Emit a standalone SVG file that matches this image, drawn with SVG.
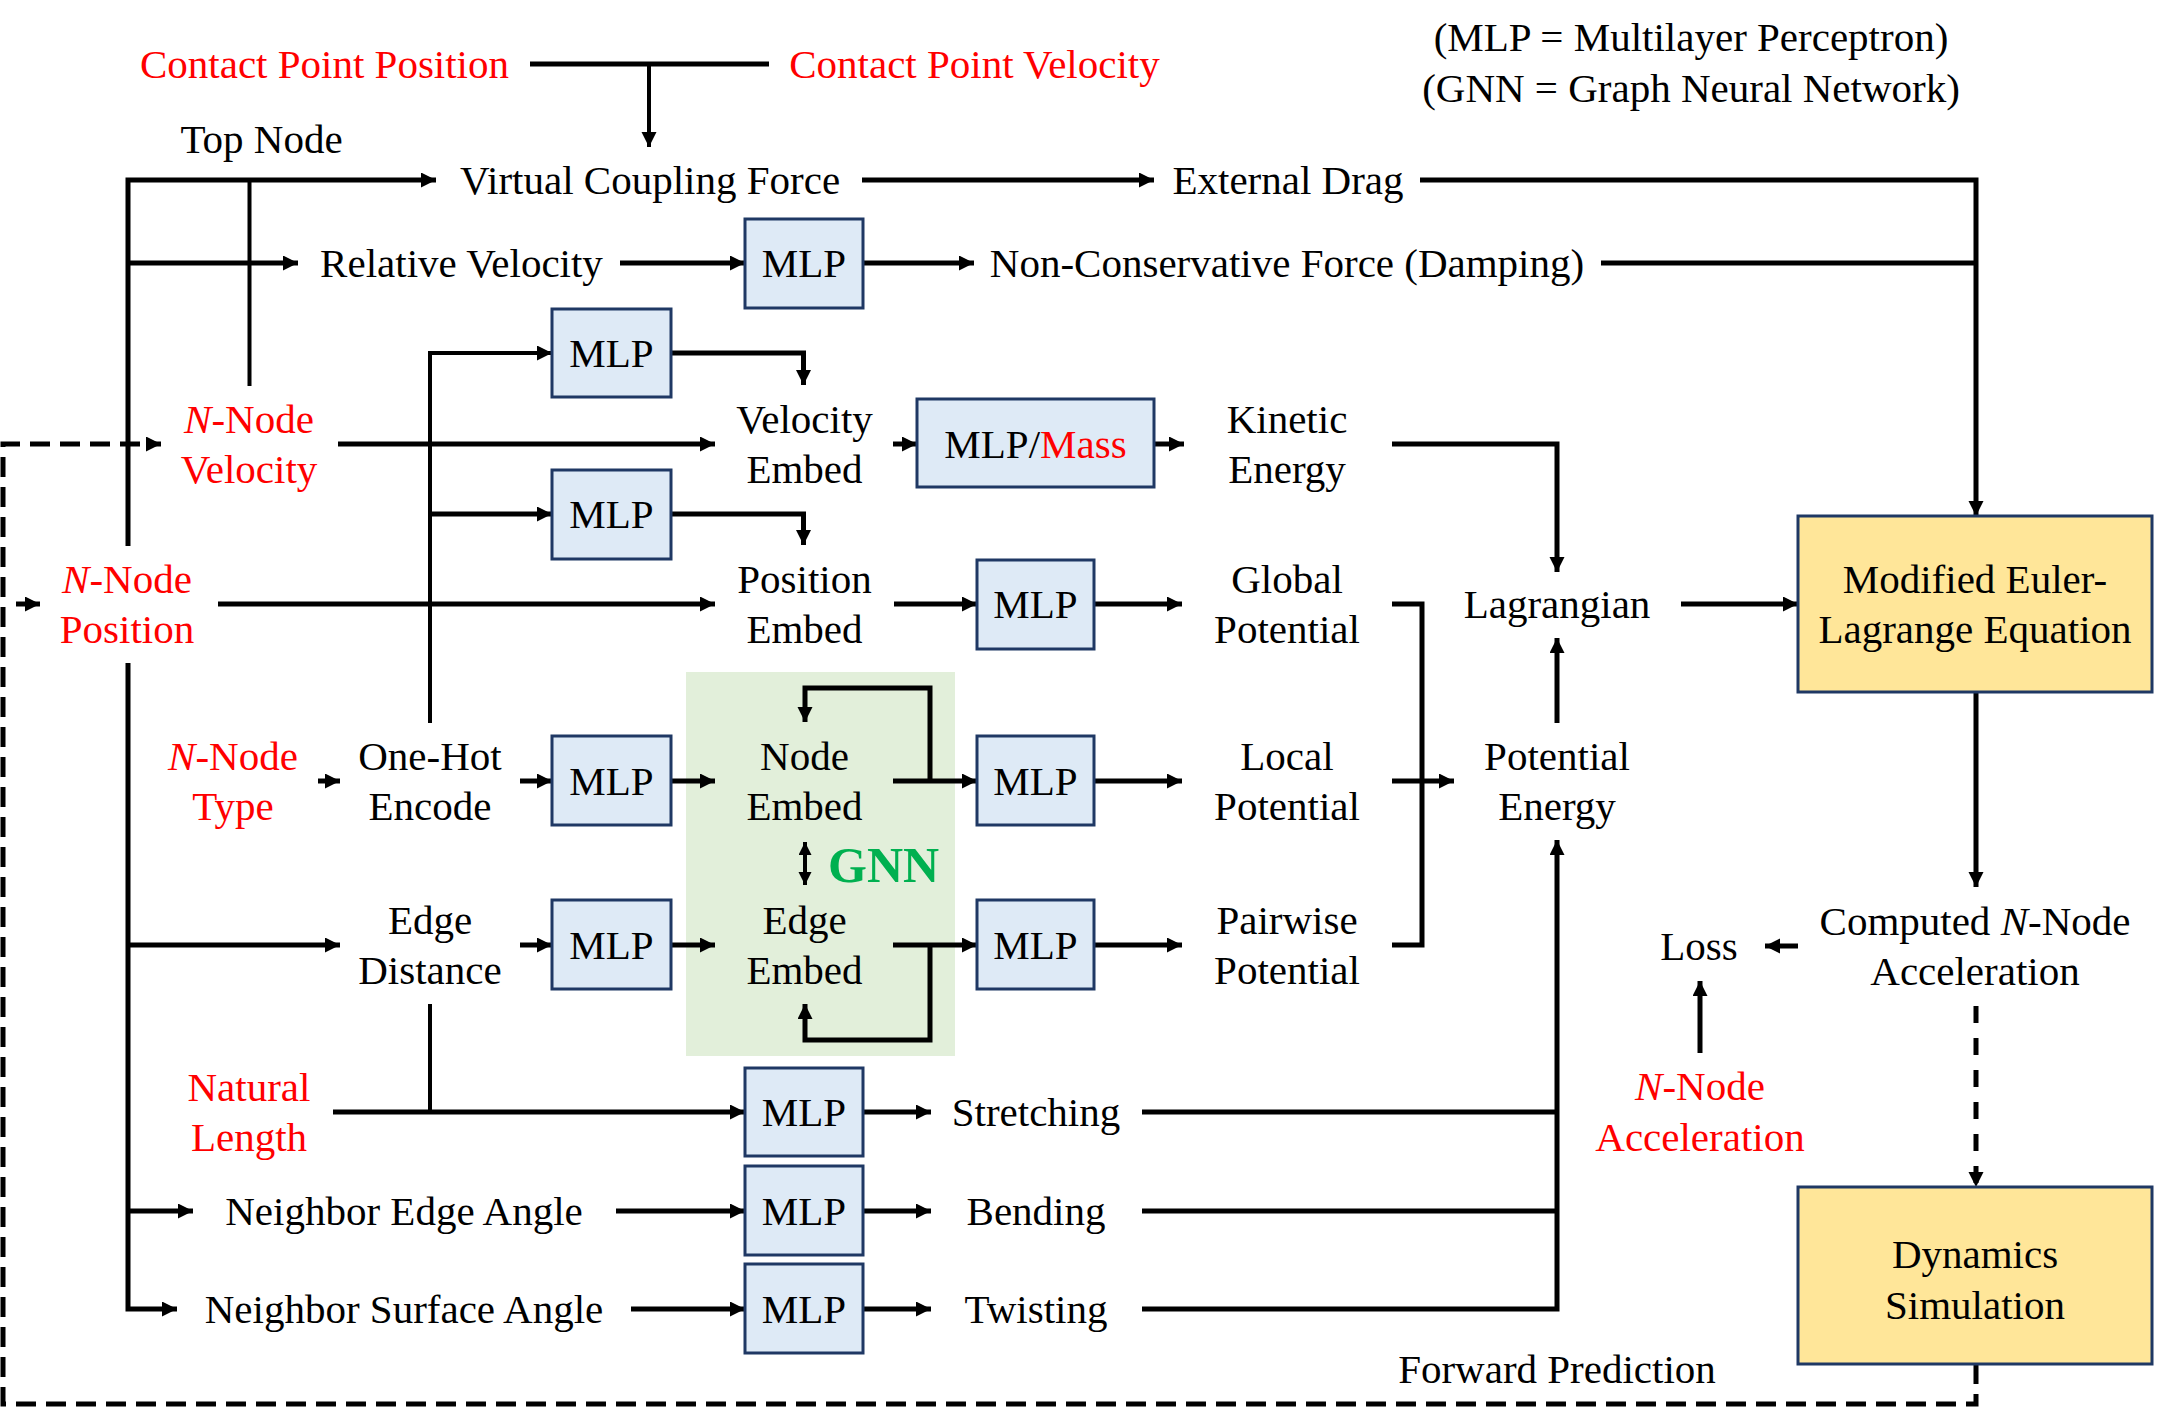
<svg xmlns="http://www.w3.org/2000/svg" width="2160" height="1416" viewBox="0 0 2160 1416">
<defs>
<style>
.t{font-family:"Liberation Serif","Times New Roman",serif;font-size:41px;text-anchor:middle;fill:#000}
.r{fill:#FF0000}
.i{font-style:italic}
.g{font-family:"Liberation Serif","Times New Roman",serif;font-size:50px;font-weight:bold;fill:#00B050}
.ln{stroke:#000;stroke-width:5;fill:none}
.th{stroke-width:4}
.ds{stroke-dasharray:20 10}
.ds2{stroke-dasharray:17 15}
.mlp{fill:#DEEAF6;stroke:#1F3864;stroke-width:3}
.yel{fill:#FFE699;stroke:#1F3864;stroke-width:3}
.gnn{fill:#E2EFDA}
</style>
<marker id="a" markerUnits="userSpaceOnUse" markerWidth="16" markerHeight="16" refX="15" refY="7.5" orient="auto">
<path d="M0,0 L15,7.5 L0,15 z" fill="#000"/>
</marker>
<marker id="s" markerUnits="userSpaceOnUse" markerWidth="14" markerHeight="14" refX="13" refY="6.5" orient="auto-start-reverse">
<path d="M0,0 L13,6.5 L0,13 z" fill="#000"/>
</marker>
</defs>
<rect width="2160" height="1416" fill="#fff"/>

<g id="gnn-region"><rect class="gnn" x="686" y="672" width="269" height="384"/></g>

<g id="connectors">
<path class="ln" d="M530,64 L769,64"/>
<path class="ln th" d="M649,64 L649,147" marker-end="url(#a)"/>
<path class="ln" d="M128,546 L128,180 L436,180" marker-end="url(#a)"/>
<path class="ln th" d="M249.5,180 L249.5,386"/>
<path class="ln" d="M128,263 L298,263" marker-end="url(#a)"/>
<path class="ln" d="M862,180 L1154,180" marker-end="url(#a)"/>
<path class="ln" d="M1420,180 L1976,180 L1976,516" marker-end="url(#a)"/>
<path class="ln" d="M1601,263 L1976,263"/>
<path class="ln" d="M620,263 L745,263" marker-end="url(#a)"/>
<path class="ln" d="M863,263 L974,263" marker-end="url(#a)"/>
<path class="ln th" d="M430,723 L430,353 L552,353" marker-end="url(#a)"/>
<path class="ln" d="M671,353 L803.5,353 L803.5,385" marker-end="url(#a)"/>
<path class="ln" d="M430,514 L552,514" marker-end="url(#a)"/>
<path class="ln" d="M671,514 L803.5,514 L803.5,545" marker-end="url(#a)"/>
<path class="ln" d="M338,444 L715,444" marker-end="url(#a)"/>
<path class="ln" d="M893,444 L917,444" marker-end="url(#a)"/>
<path class="ln" d="M1154,444 L1184,444" marker-end="url(#a)"/>
<path class="ln" d="M1392,444 L1557,444 L1557,572" marker-end="url(#a)"/>
<path class="ln" d="M218,604 L715,604" marker-end="url(#a)"/>
<path class="ln" d="M894,604 L977,604" marker-end="url(#a)"/>
<path class="ln" d="M1094,604 L1182,604" marker-end="url(#a)"/>
<path class="ln" d="M1392,604 L1422,604 L1422,945 L1392,945"/>
<path class="ln" d="M1392,781 L1454,781" marker-end="url(#a)"/>
<path class="ln" d="M1557,723 L1557,638" marker-end="url(#a)"/>
<path class="ln" d="M1681,604 L1798,604" marker-end="url(#a)"/>
<path class="ln" d="M318,781 L340,781" marker-end="url(#a)"/>
<path class="ln" d="M520,781 L552,781" marker-end="url(#a)"/>
<path class="ln" d="M671,781 L715,781" marker-end="url(#a)"/>
<path class="ln" d="M893,781 L977,781" marker-end="url(#a)"/>
<path class="ln" d="M1094,781 L1182,781" marker-end="url(#a)"/>
<path class="ln" d="M930,781 L930,688 L805,688 L805,722" marker-end="url(#a)"/>
<path class="ln th" d="M805,842 L805,885" marker-start="url(#s)" marker-end="url(#s)"/>
<path class="ln" d="M128,663 L128,1309 L177,1309" marker-end="url(#a)"/>
<path class="ln" d="M128,945 L340,945" marker-end="url(#a)"/>
<path class="ln" d="M520,945 L552,945" marker-end="url(#a)"/>
<path class="ln" d="M671,945 L715,945" marker-end="url(#a)"/>
<path class="ln" d="M893,945 L977,945" marker-end="url(#a)"/>
<path class="ln" d="M1094,945 L1182,945" marker-end="url(#a)"/>
<path class="ln" d="M930,945 L930,1040 L805,1040 L805,1004" marker-end="url(#a)"/>
<path class="ln th" d="M430,1004 L430,1112"/>
<path class="ln" d="M333,1112 L745,1112" marker-end="url(#a)"/>
<path class="ln" d="M863,1112 L931,1112" marker-end="url(#a)"/>
<path class="ln" d="M1142,1112 L1557,1112"/>
<path class="ln" d="M128,1211 L193,1211" marker-end="url(#a)"/>
<path class="ln" d="M616,1211 L745,1211" marker-end="url(#a)"/>
<path class="ln" d="M863,1211 L931,1211" marker-end="url(#a)"/>
<path class="ln" d="M1142,1211 L1557,1211"/>
<path class="ln" d="M631,1309 L745,1309" marker-end="url(#a)"/>
<path class="ln" d="M863,1309 L931,1309" marker-end="url(#a)"/>
<path class="ln" d="M1142,1309 L1557,1309 L1557,840" marker-end="url(#a)"/>
<path class="ln" d="M1976,692 L1976,887" marker-end="url(#a)"/>
<path class="ln" d="M1798,946 L1765,946" marker-end="url(#a)"/>
<path class="ln" d="M1700,1053 L1700,981" marker-end="url(#a)"/>
<path class="ln ds2" d="M1976,1006 L1976,1187" marker-end="url(#a)"/>
<path class="ln ds" d="M1976,1364 L1976,1404 L3,1404 L3,444 L161,444" marker-end="url(#a)"/>
<path class="ln" d="M16,604 L40,604" marker-end="url(#a)"/>
</g>

<g id="contact-pos"><text class="t r" x="324.5" y="78">Contact Point Position</text></g>
<g id="contact-vel"><text class="t r" x="974.5" y="78">Contact Point Velocity</text></g>
<g id="legend"><text class="t" x="1691" y="51">(MLP = Multilayer Perceptron)</text><text class="t" x="1691" y="102">(GNN = Graph Neural Network)</text></g>
<g id="top-node"><text class="t" x="261.5" y="153">Top Node</text></g>
<g id="virtual-coupling"><text class="t" x="650" y="194">Virtual Coupling Force</text></g>
<g id="external-drag"><text class="t" x="1288" y="194">External Drag</text></g>
<g id="relative-velocity"><text class="t" x="461.5" y="277">Relative Velocity</text></g>
<g id="mlp-rv"><rect class="mlp" x="745" y="219" width="118" height="89"/><text class="t" x="804" y="277">MLP</text></g>
<g id="non-conservative"><text class="t" x="1287" y="277">Non-Conservative Force (Damping)</text></g>

<g id="mlp-v1"><rect class="mlp" x="552" y="309" width="119" height="88"/><text class="t" x="611.5" y="367">MLP</text></g>
<g id="mlp-p1"><rect class="mlp" x="552" y="470" width="119" height="89"/><text class="t" x="611.5" y="528">MLP</text></g>
<g id="n-node-velocity"><text class="t r" x="249" y="433"><tspan class="i">N</tspan>-Node</text><text class="t r" x="249" y="483">Velocity</text></g>
<g id="velocity-embed"><text class="t" x="804.5" y="433">Velocity</text><text class="t" x="804.5" y="483">Embed</text></g>
<g id="mlp-mass"><rect class="mlp" x="917" y="399" width="237" height="88"/><text class="t" x="1035.5" y="458">MLP/<tspan class="r">Mass</tspan></text></g>
<g id="kinetic-energy"><text class="t" x="1287" y="433">Kinetic</text><text class="t" x="1287" y="483">Energy</text></g>

<g id="n-node-position"><text class="t r" x="127" y="593"><tspan class="i">N</tspan>-Node</text><text class="t r" x="127" y="643">Position</text></g>
<g id="position-embed"><text class="t" x="804.5" y="593">Position</text><text class="t" x="804.5" y="643">Embed</text></g>
<g id="mlp-pos"><rect class="mlp" x="977" y="560" width="117" height="89"/><text class="t" x="1035.5" y="618">MLP</text></g>
<g id="global-potential"><text class="t" x="1287" y="593">Global</text><text class="t" x="1287" y="643">Potential</text></g>
<g id="lagrangian"><text class="t" x="1557" y="618">Lagrangian</text></g>
<g id="euler-lagrange"><rect class="yel" x="1798" y="516" width="354" height="176"/><text class="t" x="1975" y="593">Modified Euler-</text><text class="t" x="1975" y="643">Lagrange Equation</text></g>

<g id="n-node-type"><text class="t r" x="233" y="770"><tspan class="i">N</tspan>-Node</text><text class="t r" x="233" y="820">Type</text></g>
<g id="one-hot"><text class="t" x="430" y="770">One-Hot</text><text class="t" x="430" y="820">Encode</text></g>
<g id="mlp-oh"><rect class="mlp" x="552" y="736" width="119" height="89"/><text class="t" x="611.5" y="795">MLP</text></g>
<g id="node-embed"><text class="t" x="804.5" y="770">Node</text><text class="t" x="804.5" y="820">Embed</text></g>
<g id="mlp-node"><rect class="mlp" x="977" y="736" width="117" height="89"/><text class="t" x="1035.5" y="795">MLP</text></g>
<g id="local-potential"><text class="t" x="1287" y="770">Local</text><text class="t" x="1287" y="820">Potential</text></g>
<g id="potential-energy"><text class="t" x="1557" y="770">Potential</text><text class="t" x="1557" y="820">Energy</text></g>
<g id="gnn-label"><text class="g" x="828" y="882">GNN</text></g>

<g id="edge-distance"><text class="t" x="430" y="934">Edge</text><text class="t" x="430" y="984">Distance</text></g>
<g id="mlp-ed"><rect class="mlp" x="552" y="900" width="119" height="89"/><text class="t" x="611.5" y="959">MLP</text></g>
<g id="edge-embed"><text class="t" x="804.5" y="934">Edge</text><text class="t" x="804.5" y="984">Embed</text></g>
<g id="mlp-edge"><rect class="mlp" x="977" y="900" width="117" height="89"/><text class="t" x="1035.5" y="959">MLP</text></g>
<g id="pairwise-potential"><text class="t" x="1287" y="934">Pairwise</text><text class="t" x="1287" y="984">Potential</text></g>
<g id="computed-accel"><text class="t" x="1975" y="935">Computed <tspan class="i">N</tspan>-Node</text><text class="t" x="1975" y="985">Acceleration</text></g>
<g id="loss"><text class="t" x="1699" y="960">Loss</text></g>

<g id="natural-length"><text class="t r" x="249" y="1101">Natural</text><text class="t r" x="249" y="1151">Length</text></g>
<g id="mlp-st"><rect class="mlp" x="745" y="1068" width="118" height="88"/><text class="t" x="804" y="1126">MLP</text></g>
<g id="stretching"><text class="t" x="1036" y="1126">Stretching</text></g>
<g id="n-node-accel"><text class="t r" x="1700" y="1100"><tspan class="i">N</tspan>-Node</text><text class="t r" x="1700" y="1151">Acceleration</text></g>

<g id="neighbor-edge"><text class="t" x="404" y="1225">Neighbor Edge Angle</text></g>
<g id="mlp-be"><rect class="mlp" x="745" y="1166" width="118" height="89"/><text class="t" x="804" y="1225">MLP</text></g>
<g id="bending"><text class="t" x="1036" y="1225">Bending</text></g>

<g id="neighbor-surface"><text class="t" x="404" y="1323">Neighbor Surface Angle</text></g>
<g id="mlp-tw"><rect class="mlp" x="745" y="1264" width="118" height="89"/><text class="t" x="804" y="1323">MLP</text></g>
<g id="twisting"><text class="t" x="1036" y="1323">Twisting</text></g>

<g id="dynamics"><rect class="yel" x="1798" y="1187" width="354" height="177"/><text class="t" x="1975" y="1268">Dynamics</text><text class="t" x="1975" y="1319">Simulation</text></g>
<g id="forward-prediction"><text class="t" x="1557" y="1383">Forward Prediction</text></g>
</svg>
